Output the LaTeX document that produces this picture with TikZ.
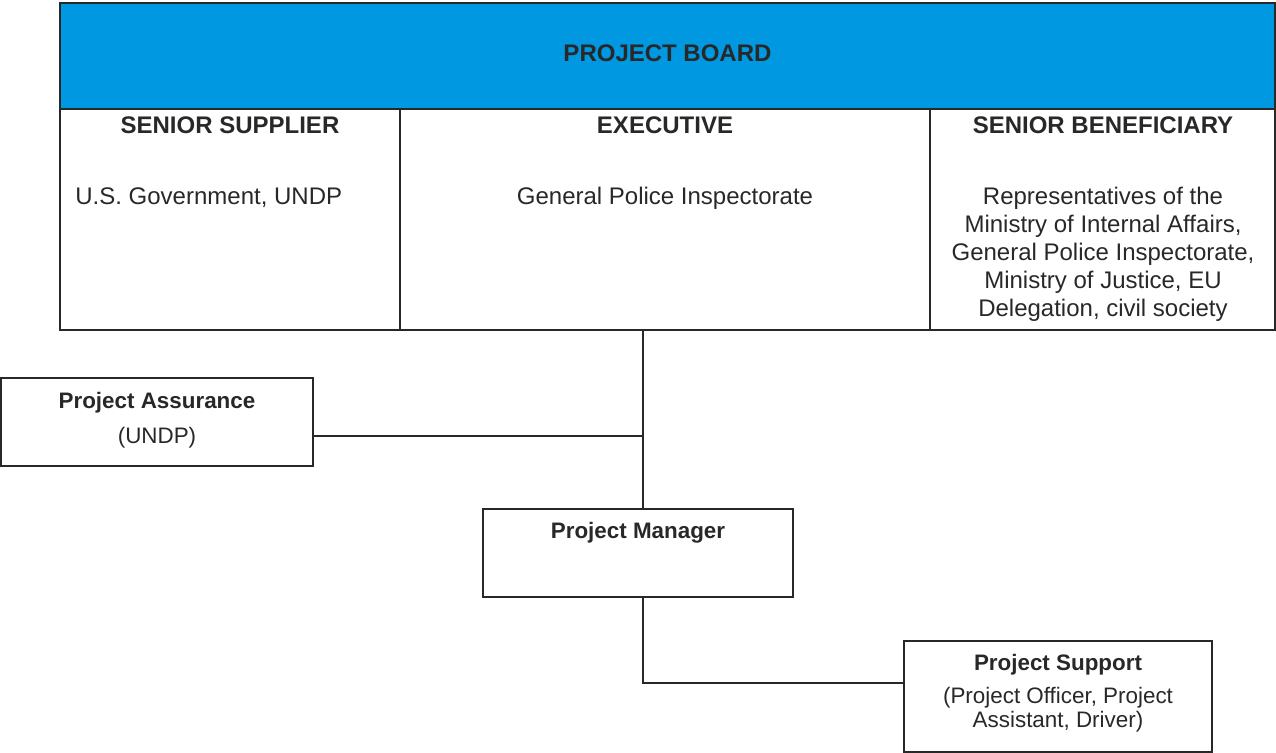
\documentclass[tikz,border=0pt]{standalone}
\usepackage{fontspec}
\setmainfont{Liberation Sans}
\usetikzlibrary{calc}
\definecolor{boardblue}{RGB}{0,152,224}
\definecolor{inkgray}{RGB}{40,40,40}
\newcommand{\orgfont}{\fontsize{12}{14}\selectfont}
\newcommand{\lowfont}{\fontsize{11.2}{12}\selectfont}

\begin{document}
\begin{tikzpicture}[x=0.5pt, y=-0.5pt,
    box/.style={draw=inkgray, line width=0.7pt, rectangle, inner sep=0pt},
    ttl/.style={font=\orgfont\bfseries, text=inkgray, anchor=base},
    txt/.style={font=\orgfont, text=inkgray, anchor=base, align=center},
    lowttl/.style={font=\lowfont\bfseries, text=inkgray, anchor=base},
    lowtxt/.style={font=\lowfont, text=inkgray, anchor=base, align=center},
    link/.style={draw=inkgray, line width=0.7pt}]
    \useasboundingbox (0,0) rectangle (1276,753);

    % board and its three columns
    \node[box, fill=boardblue, minimum width=607.5pt, minimum height=53pt] (board) at (667.5,56) {};
    \node[box, minimum width=170pt, minimum height=110.5pt] (supplier) at (230,219.5) {};
    \node[box, minimum width=265pt, minimum height=110.5pt] (executive) at (665,219.5) {};
    \node[box, minimum width=172.5pt, minimum height=110.5pt] (beneficiary) at (1102.5,219.5) {};

    \node[ttl] (boardttl) at (667.5,62) {PROJECT BOARD};
    \node[ttl] (supplierttl) at (230,134) {SENIOR SUPPLIER};
    \node[ttl] (executivettl) at (665,134) {EXECUTIVE};
    \node[ttl] (beneficiaryttl) at (1103,134) {SENIOR BENEFICIARY};
    \node[txt, anchor=base west, inner xsep=0pt] (suppliertxt) at (75,205) {U.S. Government, UNDP};
    \node[txt] (executivetxt) at (665,205) {General Police Inspectorate};
    \node[txt] (beneficiarytxt) at (1103,317) {Representatives of the\\ Ministry of Internal Affairs,\\ General Police Inspectorate,\\ Ministry of Justice, EU\\ Delegation, civil society};

    % lower boxes
    \node[box, minimum width=156pt, minimum height=44pt] (assurance) at (157,422) {};
    \node[box, minimum width=155pt, minimum height=44pt] (manager) at (638,553) {};
    \node[box, minimum width=154pt, minimum height=55.5pt] (support) at (1058,696.5) {};

    \node[lowttl] (assurancettl) at (157,409) {Project Assurance};
    \node[lowtxt] (assurancetxt) at (157,444) {(UNDP)};
    \node[lowttl] (managerttl) at (638,539) {Project Manager};
    \node[lowttl] (supportttl) at (1058,671) {Project Support};
    \node[lowtxt] (supporttxt) at (1058,727) {(Project Officer, Project\\ Assistant, Driver)};

    % connectors
    \coordinate (j) at (643,436);
    \coordinate (k) at (643,683);
    \draw[link] (executive.south -| j) -- (j |- manager.north);
    \draw[link] (assurance.east |- j) -- (j);
    \draw[link] (manager.south -| k) -- (k) -- (k -| support.west);
\end{tikzpicture}
\end{document}
